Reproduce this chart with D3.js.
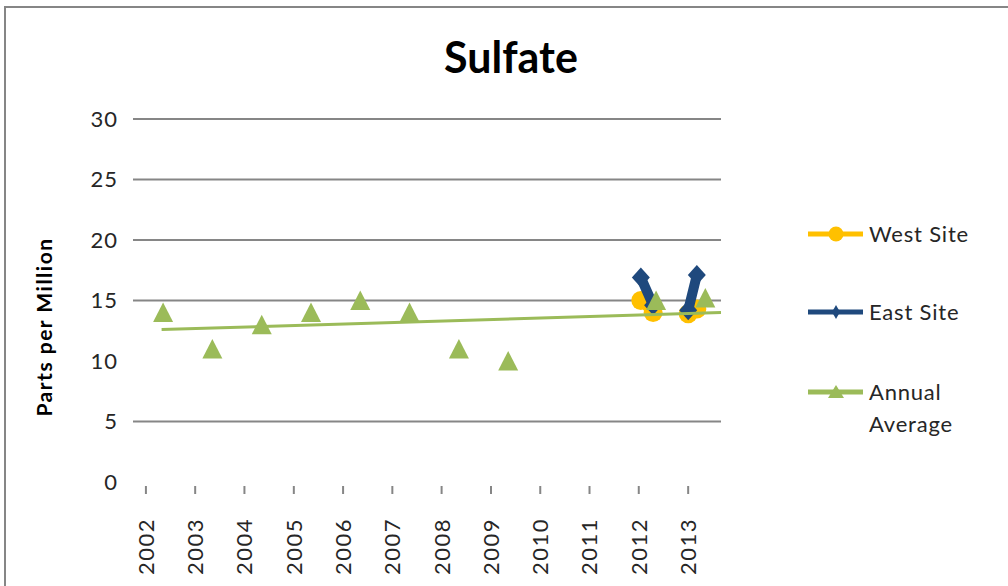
<!DOCTYPE html>
<html>
<head>
<meta charset="utf-8">
<script src="https://cdn.jsdelivr.net/npm/d3@7"></script>
<style>
  body { margin: 0; background: #fff; }
  text { font-family: Lato, "Open Sans", sans-serif; fill: #262626; }
</style>
</head>
<body>
<div id="chart"></div>
<script>
var svgWidth = 1008;
var svgHeight = 586;

// data
var yearLabels = [2002, 2003, 2004, 2005, 2006, 2007, 2008, 2009, 2010, 2011, 2012, 2013];
var gridValues = [5, 15, 20, 25, 30];
var yTickValues = [0, 5, 10, 15, 20, 25, 30];

var annualDates = ["2002-05-12", "2003-05-12", "2004-05-12", "2005-05-12", "2006-05-12",
  "2007-05-12", "2008-05-12", "2009-05-12", "2012-05-12", "2013-05-12"];
var annualValues = [14, 11, 13, 14, 15, 14, 11, 10, 15, 15.2];

// null = gap in the line
var siteDates = ["2012-01-20", "2012-04-20", "2012-09-01", "2013-01-05", "2013-03-10"];
var westValues = [15.0, 14.0, null, 13.9, 14.3];
var eastValues = [16.9, 14.6, null, 14.2, 17.1];

var trendDates = ["2002-05-01", "2013-09-05"];
var trendValues = [12.6, 14.0];

var colors = { west: "#FFC000", east: "#1F497D", annual: "#9BBB59", grid: "#868686" };

var parseDate = d3.timeParse("%Y-%m-%d");

var svg = d3.select("#chart")
  .append("svg")
  .attr("width", svgWidth)
  .attr("height", svgHeight);

// outer chart border (right and bottom fall outside the picture)
svg.append("rect")
  .attr("x", 5)
  .attr("y", 7)
  .attr("width", 1020)
  .attr("height", 600)
  .attr("fill", "none")
  .attr("stroke", colors.grid)
  .attr("stroke-width", 2);

var xScale = d3.scaleTime()
  .domain([parseDate("2001-10-01"), parseDate("2013-09-05")])
  .range([133, 721]);

var yScale = d3.scaleLinear()
  .domain([0, 30])
  .range([482, 119]);

// title
svg.append("text")
  .attr("x", 511)
  .attr("y", 73)
  .attr("text-anchor", "middle")
  .style("font-size", "43px")
  .style("font-weight", "bold")
  .style("fill", "#000")
  .text("Sulfate");

// gridlines
svg.append("g")
  .selectAll("line")
  .data(gridValues)
  .enter()
  .append("line")
  .attr("x1", 133)
  .attr("x2", 721)
  .attr("y1", d => yScale(d))
  .attr("y2", d => yScale(d))
  .attr("stroke", colors.grid)
  .attr("stroke-width", 2);

// y axis labels
var leftAxis = d3.axisLeft(yScale)
  .tickValues(yTickValues)
  .tickSize(0)
  .tickPadding(0);

var yAxis = svg.append("g")
  .attr("transform", "translate(118, 0)")
  .call(leftAxis);
yAxis.select(".domain").remove();
yAxis.selectAll("text")
  .style("font-size", "22px")
  .style("font-family", "Lato, sans-serif")
  .style("letter-spacing", "1px")
  .attr("fill", "#333");

// x axis
var bottomAxis = d3.axisBottom(xScale)
  .tickValues(yearLabels.map(y => new Date(y, 0, 1)))
  .tickFormat(d3.timeFormat("%Y"))
  .tickSize(8);

var xAxis = svg.append("g")
  .attr("transform", "translate(0, 486)")
  .call(bottomAxis);
xAxis.select(".domain").remove();
xAxis.selectAll("line")
  .attr("stroke", colors.grid)
  .attr("stroke-width", 2);
xAxis.selectAll("text")
  .attr("transform", "rotate(-90)")
  .attr("x", -32)
  .attr("y", 0)
  .attr("dy", "0.36em")
  .attr("text-anchor", "end")
  .style("font-size", "22px")
  .style("font-family", "Lato, sans-serif")
  .style("letter-spacing", "1.5px")
  .attr("fill", "#333");

// y axis title
svg.append("text")
  .attr("transform", "translate(52, 327) rotate(-90)")
  .attr("text-anchor", "middle")
  .style("font-size", "21px")
  .style("font-weight", "bold")
  .style("letter-spacing", "1.5px")
  .style("fill", "#000")
  .text("Parts per Million");

var siteData = siteDates.map((d, i) => ({
  date: parseDate(d),
  west: westValues[i],
  east: eastValues[i]
}));

function drawSite(key, color, marker, lineWidth) {
  var line = d3.line()
    .defined(d => d[key] !== null)
    .x(d => xScale(d.date))
    .y(d => yScale(d[key]));

  svg.append("path")
    .datum(siteData)
    .attr("d", line)
    .attr("fill", "none")
    .attr("stroke", color)
    .attr("stroke-width", lineWidth)
    .attr("stroke-linejoin", "round");

  svg.append("g")
    .selectAll("path")
    .data(siteData.filter(d => d[key] !== null))
    .enter()
    .append("path")
    .attr("transform", d => `translate(${xScale(d.date)}, ${yScale(d[key])})`)
    .attr("d", marker)
    .attr("fill", color);
}

var circleMarker = d3.symbol().type(d3.symbolCircle).size(Math.PI * 90)();
var diamondMarker = "M0,-10L9,0L0,10L-9,0Z";
var triangleMarker = "M0,-10L10,9.5L-10,9.5Z";

drawSite("west", colors.west, circleMarker, 10);
drawSite("east", colors.east, diamondMarker, 10);

// annual averages
svg.append("g")
  .selectAll("path")
  .data(annualDates.map((d, i) => ({ date: parseDate(d), value: annualValues[i] })))
  .enter()
  .append("path")
  .attr("transform", d => `translate(${xScale(d.date)}, ${yScale(d.value)})`)
  .attr("d", triangleMarker)
  .attr("fill", colors.annual);

// linear trendline of the annual average
svg.append("line")
  .attr("x1", xScale(parseDate(trendDates[0])))
  .attr("x2", xScale(parseDate(trendDates[1])))
  .attr("y1", yScale(trendValues[0]))
  .attr("y2", yScale(trendValues[1]))
  .attr("stroke", colors.annual)
  .attr("stroke-width", 3);

// legend
var legendItems = [
  { lines: ["West Site"], color: colors.west, marker: "M0,-7.5A7.5,7.5 0 1,1 0,7.5A7.5,7.5 0 1,1 0,-7.5Z", y: 234 },
  { lines: ["East Site"], color: colors.east, marker: "M0,-7L4,0L0,7L-4,0Z", y: 312 },
  { lines: ["Annual", "Average"], color: colors.annual, marker: "M0,-7L8,6L-8,6Z", y: 392 }
];

var legend = svg.append("g");

legendItems.forEach(function(item) {
  var g = legend.append("g")
    .attr("transform", `translate(0, ${item.y})`);
  g.append("line")
    .attr("x1", 808)
    .attr("x2", 863)
    .attr("stroke", item.color)
    .attr("stroke-width", 5);
  g.append("path")
    .attr("transform", "translate(836, 0)")
    .attr("d", item.marker)
    .attr("fill", item.color);
  item.lines.forEach(function(t, i) {
    g.append("text")
      .attr("x", 869)
      .attr("y", 8 + i * 32)
      .style("font-size", "22px")
      .style("letter-spacing", "0.8px")
      .attr("fill", "#333")
      .text(t);
  });
});
</script>
</body>
</html>
